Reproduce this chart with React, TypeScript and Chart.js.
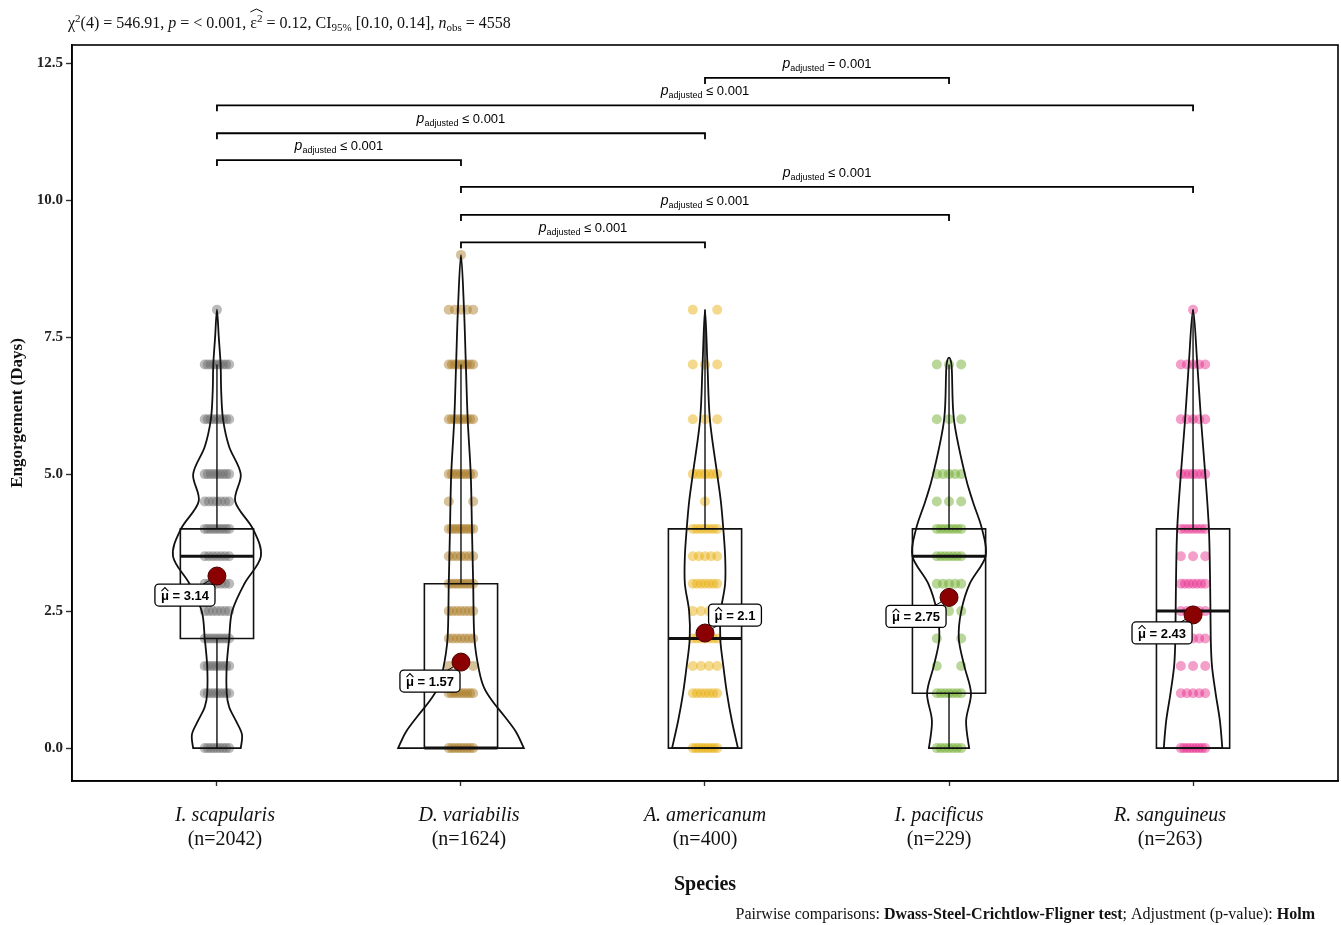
import React, { useEffect, useRef } from "react";
import { Chart, registerables } from "chart.js";

Chart.register(...registerables);

// ---- data -------------------------------------------------------------
const species = ["I. scapularis", "D. variabilis", "A. americanum", "I. pacificus", "R. sanguineus"];
const sampleSizes = [2042, 1624, 400, 229, 263];
const groupColors = ["#666666", "#A6761D", "#E6AB02", "#66A61E", "#E7298A"];

const means = [3.14, 1.57, 2.1, 2.75, 2.43];
const q1s = [2, 0, 0, 1, 0];
const medians = [3.5, 0, 2, 3.5, 2.5];
const q3s = [4, 3, 4, 4, 4];
const whiskerLows = [0, 0, 0, 0, 0];
const whiskerHighs = [7, 7, 8, 7, 8];

// distinct observed values per species, and how many jittered points show at each
const scapValues = [0, 1, 1.5, 2, 2.5, 3, 3.5, 4, 4.5, 5, 6, 7, 8];
const scapPoints = [9, 9, 9, 9, 7, 7, 7, 9, 7, 9, 9, 9, 1];
const varValues = [0, 1, 1.5, 2, 2.5, 3, 3.5, 4, 4.5, 5, 6, 7, 8, 9];
const varPoints = [9, 9, 3, 7, 7, 9, 7, 9, 2, 9, 9, 9, 5, 1];
const amerValues = [0, 1, 1.5, 2, 2.5, 3, 3.5, 4, 4.5, 5, 6, 7, 8];
const amerPoints = [9, 7, 4, 7, 4, 7, 5, 7, 1, 7, 3, 3, 2];
const pacValues = [0, 1, 1.5, 2, 2.5, 3, 3.5, 4, 4.5, 5, 6, 7];
const pacPoints = [7, 7, 2, 2, 3, 5, 7, 7, 3, 5, 3, 3];
const sangValues = [0, 1, 1.5, 2, 2.5, 3, 3.5, 4, 5, 6, 7, 8];
const sangPoints = [9, 5, 3, 5, 5, 7, 3, 7, 7, 5, 5, 1];

// kernel density outlines (relative density at each value)
const scapDensityAt = [0, 0.25, 0.5, 0.75, 1, 1.5, 2, 2.5, 3, 3.5, 4, 4.5, 5, 5.5, 6, 6.5, 7, 7.5, 8];
const scapDensity = [0.39, 0.41, 0.31, 0.2, 0.16, 0.16, 0.2, 0.25, 0.45, 0.72, 0.59, 0.3, 0.39, 0.2, 0.1, 0.07, 0.06, 0.03, 0];
const varDensityAt = [0, 0.3, 0.6, 0.85, 1.1, 1.4, 2, 3, 4, 5, 6, 7, 8, 9];
const varDensity = [1.03, 0.9, 0.7, 0.52, 0.38, 0.3, 0.22, 0.2, 0.18, 0.16, 0.11, 0.08, 0.05, 0];
const amerDensityAt = [0, 0.5, 1, 1.5, 2, 2.5, 3, 3.5, 4, 4.5, 5, 6, 7, 8];
const amerDensity = [0.54, 0.44, 0.36, 0.3, 0.25, 0.26, 0.33, 0.33, 0.3, 0.26, 0.2, 0.08, 0.04, 0];
const pacDensityAt = [0, 0.5, 1, 1.5, 2, 2.5, 3, 3.5, 4, 4.5, 5, 6, 7];
const pacDensity = [0.33, 0.28, 0.36, 0.25, 0.16, 0.2, 0.34, 0.6, 0.54, 0.39, 0.26, 0.08, 0.04];
const sangDensityAt = [0, 0.5, 1, 1.5, 2, 3, 4, 5, 6, 7, 8];
const sangDensity = [0.48, 0.44, 0.37, 0.31, 0.29, 0.28, 0.26, 0.2, 0.13, 0.07, 0];

const valueLevels = [scapValues, varValues, amerValues, pacValues, sangValues];
const pointCounts = [scapPoints, varPoints, amerPoints, pacPoints, sangPoints];
const densityAt = [scapDensityAt, varDensityAt, amerDensityAt, pacDensityAt, sangDensityAt];
const densities = [scapDensity, varDensity, amerDensity, pacDensity, sangDensity];

const yTicks = [0, 2.5, 5, 7.5, 10, 12.5];

// pairwise comparisons (group indices, bracket height, adjusted p)
const pairFrom = [2, 0, 0, 0, 1, 1, 1];
const pairTo = [3, 4, 2, 1, 4, 3, 2];
const pairY = [12.23, 11.73, 11.22, 10.73, 10.24, 9.73, 9.23];
const pairRelation = ["=", "≤", "≤", "≤", "≤", "≤", "≤"];
const pairP = ["0.001", "0.001", "0.001", "0.001", "0.001", "0.001", "0.001"];

// ---- styling ----------------------------------------------------------
const SERIF = "'Liberation Serif', 'Times New Roman', serif";
const NARROW = "'Liberation Sans Narrow', 'Liberation Sans', Arial, sans-serif";
const jitterHalf = 0.05; // category units
const boxHalf = 0.15;
const violinScale = 0.25;
const meanRadius = 9;
const labelOffsets = [
  [-32, 19],
  [-31, 19],
  [30, -18],
  [-33, 19],
  [-31, 18],
];
// horizontal nudge (px) of each category's tick text
const tickTextShift = [8, 8, 0, -10, -23];

function hexToRgba(hex: string, a: number) {
  const n = parseInt(hex.slice(1), 16);
  return `rgba(${(n >> 16) & 255},${(n >> 8) & 255},${n & 255},${a})`;
}

type Run = { t: string; font: string; dy?: number; hat?: "start" | "end" };

function runsWidth(ctx: CanvasRenderingContext2D, runs: Run[]) {
  let w = 0;
  for (const r of runs) {
    ctx.font = r.font;
    w += ctx.measureText(r.t).width;
  }
  return w;
}

function drawRuns(ctx: CanvasRenderingContext2D, x: number, y: number, runs: Run[]) {
  let cx = x;
  let hatX = 0;
  for (const r of runs) {
    ctx.font = r.font;
    if (r.hat === "start") hatX = cx;
    ctx.fillText(r.t, cx, y + (r.dy || 0));
    cx += ctx.measureText(r.t).width;
    if (r.hat === "end") {
      const top = y - 19;
      ctx.save();
      ctx.lineWidth = 1;
      ctx.strokeStyle = ctx.fillStyle as string;
      ctx.beginPath();
      ctx.moveTo(hatX, top + 3);
      ctx.lineTo((hatX + cx) / 2, top);
      ctx.lineTo(cx, top + 3);
      ctx.stroke();
      ctx.restore();
    }
  }
  return cx;
}

function smoothPath(ctx: CanvasRenderingContext2D, pts: { x: number; y: number }[]) {
  ctx.moveTo(pts[0].x, pts[0].y);
  for (let i = 0; i < pts.length - 1; i++) {
    const p0 = pts[i - 1] || pts[i];
    const p1 = pts[i];
    const p2 = pts[i + 1];
    const p3 = pts[i + 2] || pts[i + 1];
    ctx.bezierCurveTo(
      p1.x + (p2.x - p0.x) / 6,
      p1.y + (p2.y - p0.y) / 6,
      p2.x - (p3.x - p1.x) / 6,
      p2.y - (p3.y - p1.y) / 6,
      p2.x,
      p2.y
    );
  }
}

const figurePlugin = {
  id: "figure",
  beforeDatasetDraw(chart: any, args: any) {
    if (args.index !== species.length) return;
    const { ctx, scales } = chart;
    const xs = scales.x;
    const ys = scales.y;
    ctx.save();
    ctx.strokeStyle = "#111";
    for (let g = 0; g < species.length; g++) {
      // box
      const xl = xs.getPixelForValue(g - boxHalf);
      const xr = xs.getPixelForValue(g + boxHalf);
      const xc = xs.getPixelForValue(g);
      ctx.lineWidth = 1.6;
      ctx.beginPath();
      ctx.rect(xl, ys.getPixelForValue(q3s[g]), xr - xl, ys.getPixelForValue(q1s[g]) - ys.getPixelForValue(q3s[g]));
      ctx.stroke();
      ctx.lineWidth = 1.4;
      ctx.beginPath();
      ctx.moveTo(xc, ys.getPixelForValue(q3s[g]));
      ctx.lineTo(xc, ys.getPixelForValue(whiskerHighs[g]));
      ctx.moveTo(xc, ys.getPixelForValue(q1s[g]));
      ctx.lineTo(xc, ys.getPixelForValue(whiskerLows[g]));
      ctx.stroke();
      ctx.lineWidth = 3;
      ctx.beginPath();
      ctx.moveTo(xl, ys.getPixelForValue(medians[g]));
      ctx.lineTo(xr, ys.getPixelForValue(medians[g]));
      ctx.stroke();

      // violin
      const at = densityAt[g];
      const d = densities[g];
      const right = at.map((v, k) => ({ x: xs.getPixelForValue(g + d[k] * violinScale), y: ys.getPixelForValue(v) }));
      const left = at
        .map((v, k) => ({ x: xs.getPixelForValue(g - d[k] * violinScale), y: ys.getPixelForValue(v) }))
        .reverse();
      const pts = d[d.length - 1] === 0 ? right.concat(left.slice(1)) : right.concat(left);
      ctx.lineWidth = 1.8;
      ctx.beginPath();
      smoothPath(ctx, pts);
      ctx.closePath();
      ctx.stroke();
    }
    ctx.restore();
  },
  afterDatasetsDraw(chart: any) {
    const { ctx, scales } = chart;
    const xs = scales.x;
    const ys = scales.y;
    ctx.save();

    // pairwise brackets
    for (let k = 0; k < pairFrom.length; k++) {
      const x1 = xs.getPixelForValue(pairFrom[k]);
      const x2 = xs.getPixelForValue(pairTo[k]);
      const y = ys.getPixelForValue(pairY[k]);
      ctx.strokeStyle = "#000";
      ctx.lineWidth = 1.8;
      ctx.beginPath();
      ctx.moveTo(Math.min(x1, x2), y + 6);
      ctx.lineTo(Math.min(x1, x2), y);
      ctx.lineTo(Math.max(x1, x2), y);
      ctx.lineTo(Math.max(x1, x2), y + 6);
      ctx.stroke();
      const runs: Run[] = [
        { t: "p", font: `italic 14px ${NARROW}` },
        { t: "adjusted", font: `9px ${NARROW}`, dy: 3 },
        { t: ` ${pairRelation[k]} ${pairP[k]}`, font: `13px ${NARROW}` },
      ];
      ctx.fillStyle = "#000";
      ctx.textBaseline = "alphabetic";
      ctx.textAlign = "left";
      const w = runsWidth(ctx, runs);
      drawRuns(ctx, (x1 + x2) / 2 - w / 2, y - 10, runs);
    }

    // mean labels
    for (let g = 0; g < species.length; g++) {
      const px = xs.getPixelForValue(g);
      const py = ys.getPixelForValue(means[g]);
      const lx = px + labelOffsets[g][0];
      const ly = py + labelOffsets[g][1];
      const text = `μ = ${means[g]}`;
      ctx.font = `bold 13px ${NARROW}`;
      const tw = ctx.measureText(text).width;
      const muW = ctx.measureText("μ").width;
      const bw = tw + 12;
      const bh = 22;
      // leader segment, stopping at the point's rim
      const dx = lx - px;
      const dy = ly - py;
      const dist = Math.hypot(dx, dy);
      ctx.strokeStyle = "#000";
      ctx.lineWidth = 1;
      ctx.beginPath();
      ctx.moveTo(lx, ly);
      ctx.lineTo(px + (dx / dist) * meanRadius, py + (dy / dist) * meanRadius);
      ctx.stroke();
      ctx.fillStyle = "#fff";
      ctx.lineWidth = 1.3;
      ctx.beginPath();
      ctx.roundRect(lx - bw / 2, ly - bh / 2, bw, bh, 4);
      ctx.fill();
      ctx.stroke();
      ctx.fillStyle = "#000";
      ctx.textAlign = "left";
      ctx.textBaseline = "middle";
      const tx = lx - tw / 2;
      ctx.fillText(text, tx, ly + 1);
      // hat over mu
      ctx.lineWidth = 1.1;
      ctx.beginPath();
      ctx.moveTo(tx + 0.5, ly - 4);
      ctx.lineTo(tx + muW / 2, ly - 7.5);
      ctx.lineTo(tx + muW - 0.5, ly - 4);
      ctx.stroke();
    }
    ctx.restore();
  },
  afterDraw(chart: any) {
    const { ctx, chartArea, scales } = chart;
    const xs = scales.x;
    ctx.save();
    // panel border
    ctx.strokeStyle = "#000";
    ctx.lineWidth = 1.6;
    ctx.strokeRect(chartArea.left, chartArea.top, chartArea.right - chartArea.left, chartArea.bottom - chartArea.top);

    // category labels
    ctx.fillStyle = "#111";
    ctx.textAlign = "center";
    ctx.textBaseline = "middle";
    for (let g = 0; g < species.length; g++) {
      const x = xs.getPixelForValue(g) + tickTextShift[g];
      ctx.font = `italic 20px ${SERIF}`;
      ctx.fillText(species[g], x, chartArea.bottom + 35);
      ctx.font = `20px ${SERIF}`;
      ctx.fillText(`(n=${sampleSizes[g]})`, x, chartArea.bottom + 59);
    }
    ctx.font = `bold 20px ${SERIF}`;
    ctx.fillText("Species", (chartArea.left + chartArea.right) / 2, chartArea.bottom + 104);

    // y title
    ctx.save();
    ctx.translate(18, (chartArea.top + chartArea.bottom) / 2);
    ctx.rotate(-Math.PI / 2);
    ctx.font = `bold 17px ${SERIF}`;
    ctx.fillText("Engorgement (Days)", 0, 0);
    ctx.restore();

    // subtitle
    ctx.textAlign = "left";
    ctx.textBaseline = "alphabetic";
    const f = `16px ${SERIF}`;
    const fi = `italic 16px ${SERIF}`;
    const fs = `11px ${SERIF}`;
    drawRuns(ctx, 68, 28, [
      { t: "χ", font: f },
      { t: "2", font: fs, dy: -6 },
      { t: "(4) = 546.91, ", font: f },
      { t: "p", font: fi },
      { t: " = < 0.001, ", font: f },
      { t: "ε", font: f, hat: "start" },
      { t: "2", font: fs, dy: -6, hat: "end" },
      { t: " = 0.12, CI", font: f },
      { t: "95%", font: fs, dy: 3 },
      { t: " [0.10, 0.14], ", font: f },
      { t: "n", font: fi },
      { t: "obs", font: fs, dy: 3 },
      { t: " = 4558", font: f },
    ]);

    // caption
    const caption: Run[] = [
      { t: "Pairwise comparisons: ", font: `16px ${SERIF}` },
      { t: "Dwass-Steel-Crichtlow-Fligner test", font: `bold 16px ${SERIF}` },
      { t: "; Adjustment (p-value): ", font: `16px ${SERIF}` },
      { t: "Holm", font: `bold 16px ${SERIF}` },
    ];
    const cw = runsWidth(ctx, caption);
    drawRuns(ctx, 1315 - cw, 919, caption);
    ctx.restore();
  },
};

export default function App() {
  const canvasRef = useRef<HTMLCanvasElement | null>(null);

  useEffect(() => {
    if (!canvasRef.current) return;
    const jitterSets = species.map((name, g) => {
      const data: { x: number; y: number }[] = [];
      valueLevels[g].forEach((v, k) => {
        const n = pointCounts[g][k];
        for (let j = 0; j < n; j++) {
          const off = n === 1 ? 0 : -jitterHalf + (2 * jitterHalf * j) / (n - 1);
          data.push({ x: g + off, y: v });
        }
      });
      return {
        label: name,
        data,
        order: 1,
        pointRadius: 5,
        pointBorderWidth: 0,
        pointBackgroundColor: hexToRgba(groupColors[g], 0.45),
        showLine: false,
      };
    });
    const chart = new Chart(canvasRef.current, {
      type: "scatter",
      data: {
        datasets: [
          ...jitterSets,
          {
            label: "mean",
            data: means.map((m, g) => ({ x: g, y: m })),
            order: 0,
            pointRadius: meanRadius,
            pointBorderWidth: 1,
            pointBackgroundColor: "#8B0000",
            pointBorderColor: "#4a0000",
            showLine: false,
          },
        ] as any,
      },
      options: {
        responsive: false,
        animation: false,
        layout: { autoPadding: false, padding: { top: 45, right: 3, left: 0, bottom: 0 } },
        plugins: { legend: { display: false }, tooltip: { enabled: false } },
        scales: {
          x: {
            type: "linear",
            min: -0.594,
            max: 4.594,
            afterBuildTicks: (s: any) => {
              s.ticks = species.map((_, g) => ({ value: g }));
            },
            afterFit: (s: any) => {
              s.height = 144;
              s.paddingLeft = 0;
              s.paddingRight = 0;
            },
            ticks: { callback: () => "" },
            grid: { drawOnChartArea: false, tickLength: 5, color: "#333", tickWidth: 1.4 },
            border: { display: true, color: "#000", width: 1.6 },
          },
          y: {
            type: "linear",
            min: -0.6,
            max: 12.83,
            afterBuildTicks: (s: any) => {
              s.ticks = yTicks.map((v) => ({ value: v }));
            },
            afterFit: (s: any) => {
              s.width = 72;
              s.paddingTop = 0;
              s.paddingBottom = 0;
            },
            ticks: {
              callback: (v: any) => Number(v).toFixed(1),
              font: { family: SERIF, size: 15, weight: "bold" },
              color: "#222",
              padding: 3,
            },
            grid: { drawOnChartArea: false, tickLength: 6, color: "#333", tickWidth: 1.4 },
            border: { display: true, color: "#000", width: 1.6 },
          },
        },
      },
      plugins: [figurePlugin],
    });
    return () => chart.destroy();
  }, []);

  return (
    <div style={{ position: "fixed", left: 0, top: 0, width: 1341, height: 925, background: "#fff" }}>
      <canvas ref={canvasRef} width={1341} height={925} style={{ display: "block" }} />
    </div>
  );
}
